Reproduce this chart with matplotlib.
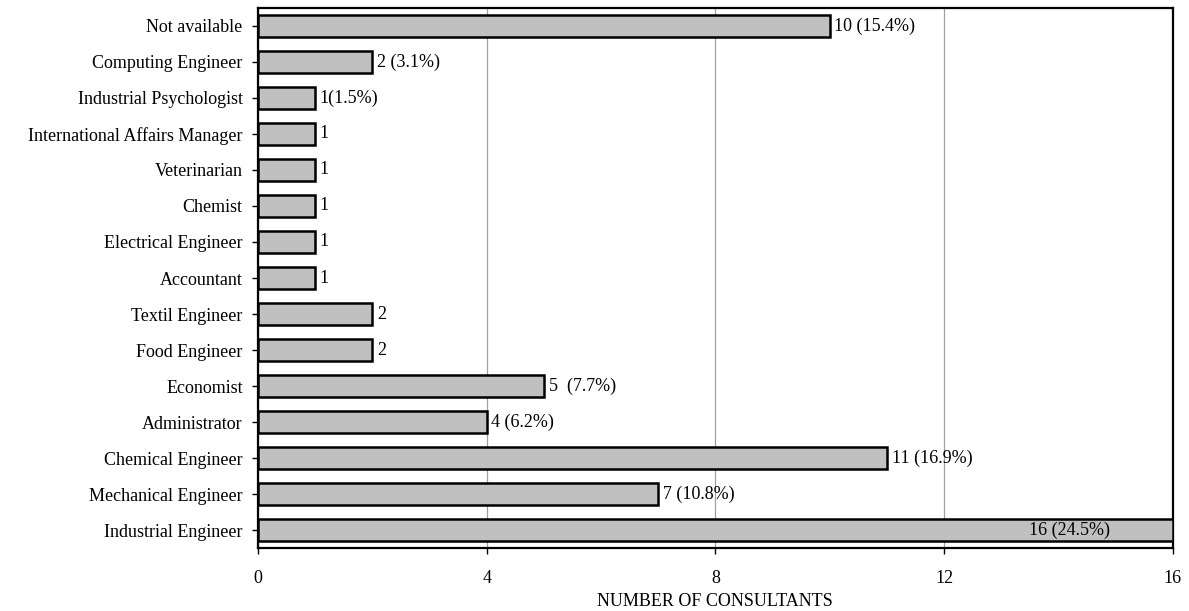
import numpy as np
import matplotlib.pyplot as plt

plt.rcParams['font.family'] = ['Liberation Serif', 'DejaVu Serif']

# bottom to top
professions = ['Industrial Engineer', 'Mechanical Engineer', 'Chemical Engineer',
               'Administrator', 'Economist', 'Food Engineer', 'Textil Engineer',
               'Accountant', 'Electrical Engineer', 'Chemist', 'Veterinarian',
               'International Affairs Manager', 'Industrial Psychologist',
               'Computing Engineer', 'Not available']
counts = [16, 7, 11, 4, 5, 2, 2, 1, 1, 1, 1, 1, 1, 2, 10]
value_labels = ['16 (24.5%)', '7 (10.8%)', '11 (16.9%)', '4 (6.2%)', '5  (7.7%)',
                '2', '2', '1', '1', '1', '1', '1', '1(1.5%)', '2 (3.1%)',
                '10 (15.4%)']
xticks = [0, 4, 8, 12, 16]

fig = plt.figure(figsize=(11.89, 6.11), dpi=100)
ax = fig.add_axes([0.217, 0.103, 0.7695, 0.884])

y = np.arange(len(professions))
ax.barh(y, counts, height=0.62, color='#c0c0c0', edgecolor='black',
        linewidth=1.8, zorder=3)

for yi, c, lab in zip(y, counts, value_labels):
    if c >= 16:
        # the longest bar gets its label inside
        ax.text(c - 1.1, yi, lab, ha='right', va='center', fontsize=13, zorder=4)
    else:
        ax.text(c + 0.08, yi, lab, ha='left', va='center', fontsize=13, zorder=4)

ax.set_xlim(0, 16)
ax.set_ylim(-0.5, len(professions) - 0.5)
ax.set_xticks(xticks)
ax.set_yticks(y)
ax.set_yticklabels(professions)
ax.tick_params(axis='both', labelsize=13, length=4, width=1, direction='out')
ax.tick_params(axis='y', pad=7)
ax.tick_params(axis='x', pad=12)
ax.grid(axis='x', color='#a0a0a0', linewidth=0.9, zorder=0)
for s in ax.spines.values():
    s.set_linewidth(1.6)

fig.text(0.601, 1 - 601 / 611, 'NUMBER OF CONSULTANTS', fontsize=13,
         ha='center', va='center')

fig.savefig('out.png', dpi=100)
